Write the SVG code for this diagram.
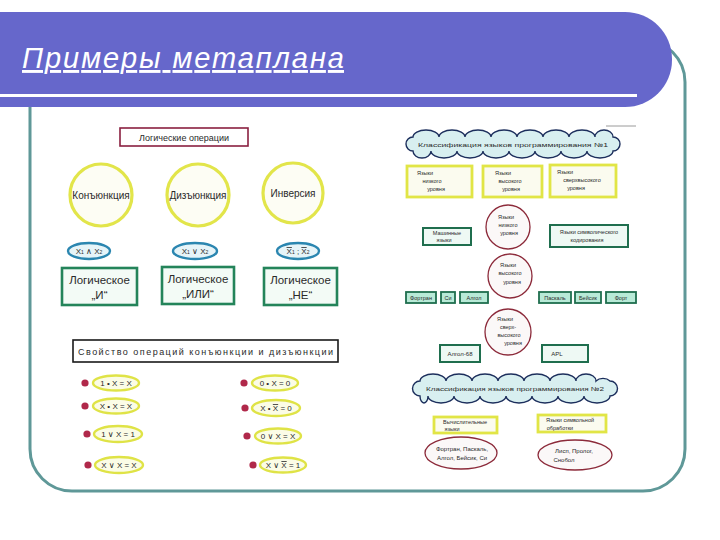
<svg xmlns="http://www.w3.org/2000/svg" width="720" height="540" viewBox="0 0 720 540">
<style>
text{font-family:"Liberation Sans","DejaVu Sans",sans-serif;fill:#2a2a2a;text-anchor:middle}
.t9{font-size:9px}
.t10{font-size:10px}
.t11{font-size:11.5px}
.t8{font-size:8px}
.s6{font-size:6px}
.s55{font-size:5.5px}
.ycirc{fill:#fdfdf4;stroke:#e2e54a;stroke-width:3.2}
.boval{fill:#e6f4f8;stroke:#2b86b0;stroke-width:2.4}
.gbox{fill:#f3fbf6;stroke:#24845a;stroke-width:2.6}
.yoval{fill:#fbfce6;stroke:#dfe346;stroke-width:2.4}
.dot{fill:#b0284a}
.ybox{fill:#fbfbef;stroke:#e1e546;stroke-width:2.8}
.rcirc{fill:#fbf8f8;stroke:#8c2a3a;stroke-width:1.3}
.gsm{fill:#b8ead7;stroke:#1f6e4e;stroke-width:1.8}
.gmid{fill:#eef9f4;stroke:#1f6e4e;stroke-width:2}
.cloud{fill:#d8eff0;stroke:#1c2e5c;stroke-width:1.4}
.rell{fill:#fbf8f8;stroke:#8c2a3a;stroke-width:1.3}
.ov{text-decoration:overline}
</style>
<rect x="0" y="0" width="720" height="540" fill="#ffffff"/>
<g id="frame">
<rect x="30" y="40" width="655" height="451" rx="42" ry="42" fill="#ffffff" stroke="#5f9898" stroke-width="3"/>
</g>
<g id="title">
<rect x="-60" y="12" width="732" height="95" rx="47" ry="47" fill="#6667cb"/>
<rect x="0" y="94" width="637" height="3" fill="#ffffff"/>
<text x="22" y="68" style="font-size:29px;font-style:italic;fill:#ffffff;text-anchor:start;text-decoration:underline" textLength="322" lengthAdjust="spacing">Примеры метаплана</text>
</g>
<g id="connectors"></g>

<!-- Left panel -->
<g id="log-ops">
<rect x="120" y="128" width="128" height="18" fill="#ffffff" stroke="#8a2040" stroke-width="1.6"/>
<text class="t9" x="184" y="140.5">Логические операции</text>
</g>
<g id="conj">
<circle class="ycirc" cx="101" cy="195" r="31"/>
<text class="t10" x="101" y="198.5">Конъюнкция</text>
</g>
<g id="disj">
<circle class="ycirc" cx="198" cy="195" r="31"/>
<text class="t10" x="198" y="198.5">Дизъюнкция</text>
</g>
<g id="inv">
<circle class="ycirc" cx="293" cy="193" r="30"/>
<text class="t10" x="293" y="196.5">Инверсия</text>
</g>
<g id="f-conj">
<ellipse class="boval" cx="89" cy="251" rx="21" ry="8"/>
<text class="t8" x="89" y="254">X<tspan style="font-size:5px">1</tspan> ∧ X<tspan style="font-size:5px">2</tspan></text>
</g>
<g id="f-disj">
<ellipse class="boval" cx="195" cy="251" rx="22" ry="8"/>
<text class="t8" x="195" y="254">X<tspan style="font-size:5px">1</tspan> ∨ X<tspan style="font-size:5px">2</tspan></text>
</g>
<g id="f-inv">
<ellipse class="boval" cx="298" cy="251" rx="21" ry="8"/>
<text class="t8" x="298" y="254"><tspan class="ov">X</tspan><tspan style="font-size:5px">1</tspan> ; <tspan class="ov">X</tspan><tspan style="font-size:5px">2</tspan></text>
</g>
<g id="log-and">
<rect class="gbox" x="62" y="268" width="75" height="37"/>
<text class="t11" x="99.5" y="284">Логическое</text>
<text class="t11" x="99.5" y="299">„И“</text>
</g>
<g id="log-or">
<rect class="gbox" x="162" y="267" width="72" height="37"/>
<text class="t11" x="198" y="283">Логическое</text>
<text class="t11" x="198" y="298">„ИЛИ“</text>
</g>
<g id="log-not">
<rect class="gbox" x="264" y="268" width="73" height="37"/>
<text class="t11" x="300.5" y="284">Логическое</text>
<text class="t11" x="300.5" y="299">„НЕ“</text>
</g>

<g id="props">
<rect x="73" y="340" width="265" height="22" fill="#ffffff" stroke="#1a1a1a" stroke-width="1.6"/>
<text class="t9" x="205.5" y="354.5" textLength="255" lengthAdjust="spacing">Свойство операций конъюнкции и дизъюнкции</text>
</g>
<g id="p1"><circle class="dot" cx="85" cy="383" r="3.6"/><ellipse class="yoval" cx="116" cy="383" rx="23" ry="7.5"/><text class="t8" x="116" y="386">1 • X = X</text></g>
<g id="p2"><circle class="dot" cx="85" cy="406" r="3.6"/><ellipse class="yoval" cx="116" cy="406" rx="23" ry="7.5"/><text class="t8" x="116" y="409">X • X = X</text></g>
<g id="p3"><circle class="dot" cx="87" cy="434" r="3.6"/><ellipse class="yoval" cx="118" cy="434" rx="24" ry="8"/><text class="t8" x="118" y="437">1 ∨ X = 1</text></g>
<g id="p4"><circle class="dot" cx="88" cy="465" r="3.6"/><ellipse class="yoval" cx="119" cy="465" rx="24" ry="8"/><text class="t8" x="119" y="468">X ∨ X = X</text></g>
<g id="p5"><circle class="dot" cx="244" cy="383" r="3.6"/><ellipse class="yoval" cx="275" cy="383" rx="23" ry="7.5"/><text class="t8" x="275" y="386">0 • X = 0</text></g>
<g id="p6"><circle class="dot" cx="245" cy="408" r="3.6"/><ellipse class="yoval" cx="276" cy="408" rx="24" ry="8"/><text class="t8" x="276" y="411">X • <tspan class="ov">X</tspan> = 0</text></g>
<g id="p7"><circle class="dot" cx="247" cy="436" r="3.6"/><ellipse class="yoval" cx="278" cy="436" rx="23" ry="7.5"/><text class="t8" x="278" y="439">0 ∨ X = X</text></g>
<g id="p8"><circle class="dot" cx="253" cy="465" r="3.6"/><ellipse class="yoval" cx="283" cy="465" rx="23" ry="7.5"/><text class="t8" x="283" y="468">X ∨ <tspan class="ov">X</tspan> = 1</text></g>

<!-- Right panel -->
<path d="M606,126 H636" stroke="#9a9a9a" stroke-width="1" fill="none"/>
<g id="cloud1">
<path class="cloud" d="M413,137 A13,7 0 0 1 439,137 A13,7 0 0 1 465,137 A13,7 0 0 1 491,137 A13,7 0 0 1 517,137 A13,7 0 0 1 543,137 A13,7 0 0 1 569,137 A13,7 0 0 1 595,137 A9,7 0 0 1 613,137 A7,7 0 0 1 613,151 A13,7 0 0 1 587,151 A13,7 0 0 1 561,151 A13,7 0 0 1 535,151 A13,7 0 0 1 509,151 A13,7 0 0 1 483,151 A13,7 0 0 1 457,151 A13,7 0 0 1 431,151 A9,7 0 0 1 413,151 A7,7 0 0 1 413,137 Z"/>
<text class="s6" x="513" y="146.5" textLength="190" lengthAdjust="spacingAndGlyphs">Классификация языков программирования №1</text>
</g>
<g id="low-level">
<rect class="ybox" x="407" y="166" width="65" height="31"/>
<text class="s55" x="425" y="175">Языки</text>
<text class="s55" x="432" y="183">низкого</text>
<text class="s55" x="436" y="191">уровня</text>
</g>
<g id="high-level">
<rect class="ybox" x="483" y="166" width="59" height="31"/>
<text class="s55" x="503" y="175">Языки</text>
<text class="s55" x="510" y="183">высокого</text>
<text class="s55" x="511" y="191">уровня</text>
</g>
<g id="super-level">
<rect class="ybox" x="550" y="165" width="66" height="32"/>
<text class="s55" x="565" y="174">Языки</text>
<text class="s55" x="582" y="182">сверхвысокого</text>
<text class="s55" x="576" y="190">уровня</text>
</g>
<g id="c-low">
<circle class="rcirc" cx="508" cy="227" r="22"/>
<text class="s55" x="506" y="219">Языки</text>
<text class="s55" x="508" y="227">низкого</text>
<text class="s55" x="509" y="235">уровня</text>
</g>
<g id="machine">
<rect class="gmid" x="423" y="228" width="48" height="17"/>
<text class="s55" x="447" y="235">Машинные</text>
<text class="s55" x="444" y="242">языки</text>
</g>
<g id="symbolic">
<rect class="gmid" x="550" y="225" width="78" height="22"/>
<text class="s55" x="589" y="234">Языки символического</text>
<text class="s55" x="587" y="242">кодирования</text>
</g>
<g id="c-high">
<circle class="rcirc" cx="510" cy="276" r="22"/>
<text class="s55" x="508" y="267">Языки</text>
<text class="s55" x="510" y="275">высокого</text>
<text class="s55" x="512" y="284">уровня</text>
</g>
<g id="fortran"><rect class="gsm" x="406" y="292" width="30" height="11"/><text class="s55" x="421" y="299.5">Фортран</text></g>
<g id="c"><rect class="gsm" x="441" y="292" width="14" height="11"/><text class="s55" x="448" y="299.5">Си</text></g>
<g id="algol"><rect class="gsm" x="460" y="292" width="28" height="11"/><text class="s55" x="474" y="299.5">Алгол</text></g>
<g id="pascal"><rect class="gsm" x="539" y="292" width="32" height="11"/><text class="s55" x="555" y="299.5">Паскаль</text></g>
<g id="basic"><rect class="gsm" x="575" y="292" width="26" height="11"/><text class="s55" x="588" y="299.5">Бейсик</text></g>
<g id="forth"><rect class="gsm" x="606" y="292" width="30" height="11"/><text class="s55" x="621" y="299.5">Форт</text></g>
<g id="c-super">
<circle class="rcirc" cx="508" cy="332" r="23"/>
<text class="s55" x="505" y="321">Языки</text>
<text class="s55" x="508" y="329">сверх-</text>
<text class="s55" x="509" y="337">высокого</text>
<text class="s55" x="513" y="345">уровня</text>
</g>
<g id="algol68"><rect class="gmid" x="440" y="345" width="40" height="17"/><text class="s6" x="460" y="356">Алгол-68</text></g>
<g id="apl"><rect class="gmid" x="542" y="345" width="46" height="17"/><text class="s6" x="557" y="356">APL</text></g>
<g id="cloud2">
<path class="cloud" d="M420,381 A13,7 0 0 1 446,381 A13,7 0 0 1 472,381 A13,7 0 0 1 498,381 A13,7 0 0 1 524,381 A13,7 0 0 1 550,381 A13,7 0 0 1 576,381 A10,7 0 0 1 596,381 A9,7 0 0 1 610,381 A7,7 0 0 1 610,396 A13,7 0 0 1 584,396 A13,7 0 0 1 558,396 A13,7 0 0 1 532,396 A13,7 0 0 1 506,396 A13,7 0 0 1 480,396 A13,7 0 0 1 454,396 A13,7 0 0 1 428,396 A4,7 0 0 1 420,396 A7,7 0 0 1 420,381 Z"/>
<text class="s6" x="515" y="390.5" textLength="178" lengthAdjust="spacingAndGlyphs">Классификация языков программирования №2</text>
</g>
<g id="comp-lang">
<rect class="ybox" x="434" y="417" width="63" height="16"/>
<text class="s55" x="465" y="424">Вычислительные</text>
<text class="s55" x="452" y="431">языки</text>
</g>
<g id="sym-lang">
<rect class="ybox" x="538" y="415" width="68" height="17"/>
<text class="s55" x="570" y="422">Языки символьной</text>
<text class="s55" x="560" y="429.5">обработки</text>
</g>
<g id="list1">
<ellipse class="rell" cx="461" cy="453" rx="36" ry="16"/>
<text class="s6" x="462" y="451">Фортран, Паскаль,</text>
<text class="s6" x="462" y="460">Алгол, Бейсик, Си</text>
</g>
<g id="list2">
<ellipse class="rell" cx="575" cy="455" rx="37" ry="15"/>
<text class="s6" x="574" y="453">Лисп, Пролог,</text>
<text class="s6" x="564" y="462">Снобол</text>
</g>
</svg>
